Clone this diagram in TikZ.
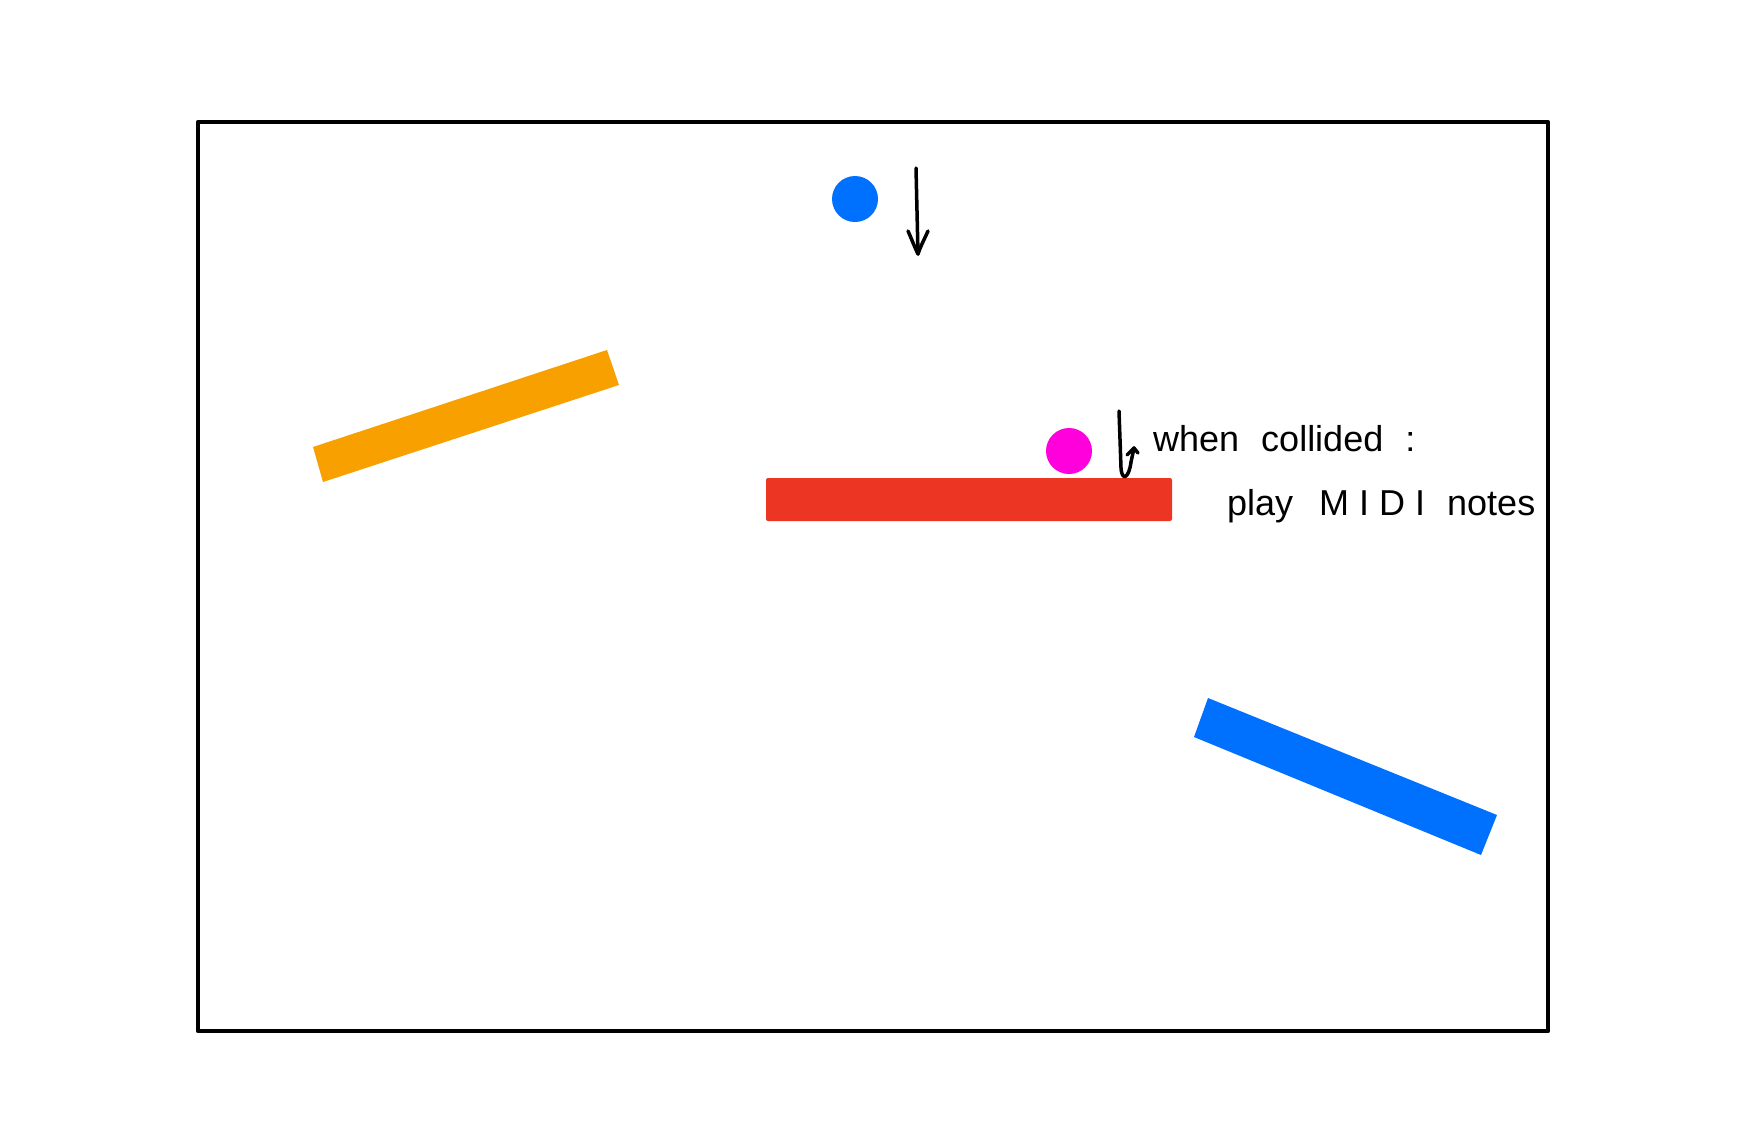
\documentclass[tikz,border=0pt]{standalone}
\usepackage{fontspec}
\newfontfamily\handfont{Liberation Sans}
\definecolor{ballblue}{RGB}{0,112,255}
\definecolor{barorange}{RGB}{247,160,0}
\definecolor{barred}{RGB}{237,53,36}
\definecolor{ballmag}{RGB}{255,0,220}
\tikzset{
  frame/.style={draw=black, line width=4.5pt, line join=round},
  ball/.style={circle, minimum size=46pt, inner sep=0pt},
  bar/.style={line join=round},
  pen/.style={draw=black, line width=3.5pt, line cap=round, line join=round},
  hand/.style={font=\handfont\fontsize{36}{36}\selectfont, inner sep=0pt, anchor=base west}
}
\begin{document}
\begin{tikzpicture}[x=1pt,y=-1pt]
\useasboundingbox (0,0) rectangle (1754,1128);
\fill[white] (0,0) rectangle (1754,1128);
% frame
\draw[frame] (198,122) rectangle (1548,1031);
% orange bar
\fill[barorange, bar] (313,447) -- (607,350) -- (619,385) -- (323,482) -- cycle;
% red bar
\fill[barred, rounded corners=2pt] (766,478) rectangle (1172,521);
% blue bar
\fill[ballblue, bar] (1208,698) -- (1497,815) -- (1481,855) -- (1194,737) -- cycle;
% balls
\node[ball, fill=ballblue] (blueball) at (855,199) {};
\node[ball, fill=ballmag] (magball) at (1069,451) {};
% falling arrow
\coordinate (fa1) at (916,168);
\coordinate (fa2) at (918,254);
\draw[pen] (fa1) -- (fa2);
\draw[pen] (908,231) .. controls (912,240) and (915,248) .. (fa2) .. controls (921,245) and (925,238) .. (928,231);
% bounce arrow
\coordinate (ba1) at (1119,411);
\coordinate (ba2) at (1134,448);
\draw[pen] (ba1) -- (1121,468) .. controls (1122,482) and (1129,478) .. (1131,462) -- (ba2);
\draw[pen] (1127,455) -- (ba2) -- (1138,453);
% text
\node[hand] (t1) at (1153,451) {when\hspace{22pt}collided\hspace{22pt}:};
\node[hand] (t2) at (1227,515) {play\hspace{26pt}M\kern10pt I\kern10pt D\kern10pt I\hspace{22pt}notes};
\end{tikzpicture}
\end{document}
